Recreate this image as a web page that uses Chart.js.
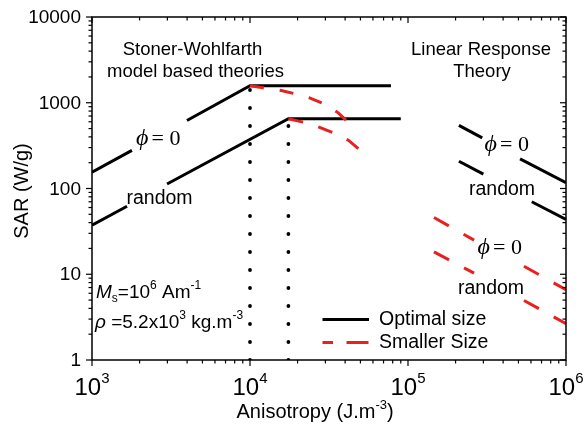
<!DOCTYPE html>
<html><head><meta charset="utf-8">
<script src="https://cdn.jsdelivr.net/npm/chart.js@4.4.1/dist/chart.umd.min.js"></script>
<style>html,body{margin:0;padding:0;background:#fff}#wrap{width:584px;height:429px;position:relative}</style>
</head><body><div id="wrap"><canvas id="c" width="584" height="429"></canvas></div>
<script>
// ---- tick values / labels ----
const xTicks = [1e3, 1e4, 1e5, 1e6];
const xTickExp = ['3', '4', '5', '6'];
const yTicks = [1, 10, 100, 1000, 10000];
const yTickLabels = ['1', '10', '100', '1000', '10000'];

// ---- Stoner-Wohlfarth region, optimal size (segments broken where labels sit) ----
const swOptPhiA = [[1e3, 155], [1790, 278]];
const swOptPhiB = [[3990, 620], [1e4, 1580], [7.8e4, 1580]];
const swOptRandA = [[1e3, 37.3], [1666, 62]];
const swOptRandB = [[2985, 113], [1.75e4, 650], [9.0e4, 650]];
// ---- Stoner-Wohlfarth region, smaller size ----
const swSmallPhi = [[1e4, 1580], [1.21e4, 1500], [1.55e4, 1400], [1.88e4, 1285], [2.36e4, 1145], [2.91e4, 980], [3.62e4, 763], [4.05e4, 627]];
const swSmallRand = [[1.75e4, 650], [2.17e4, 594], [2.7e4, 525], [3.36e4, 447], [4.19e4, 366], [4.92e4, 285]];
// ---- Linear response theory region ----
const lrtOptPhiA = [[2.1e5, 545], [2.95e5, 390]];
const lrtOptPhiB = [[5.12e5, 222], [1e6, 117]];
const lrtOptRandA = [[2.1e5, 208], [3.0e5, 147]];
const lrtOptRandB = [[6.07e5, 70], [1e6, 43.5]];
const lrtSmallPhiA = [[1.46e5, 45.9], [2.62e5, 25]];
const lrtSmallPhiB = [[5.42e5, 12.4], [1e6, 6.6]];
const lrtSmallRandA = [[1.46e5, 18.2], [2.62e5, 10.3]];
const lrtSmallRandB = [[5.42e5, 4.95], [1e6, 2.65]];
// ---- dotted markers at the peaks ----
const peakPhi = [[1e4, 1], [1e4, 1580]];
const peakRand = [[1.75e4, 1], [1.75e4, 650]];

const BLACK = '#000000';
const RED = '#e8201e';
const SANS = '"Liberation Sans", Arial, sans-serif';
const SERIF = '"Liberation Serif", "Times New Roman", serif';

function ds(arr, color, dash, width, cap) {
  return {
    data: arr.map(([x, y]) => ({x, y})),
    borderColor: color, backgroundColor: color,
    borderWidth: width || 3, borderDash: dash || [],
    borderCapStyle: cap || 'butt', borderJoinStyle: 'miter',
    pointRadius: 0, pointHoverRadius: 0, showLine: true, fill: false, tension: 0
  };
}

function rich(ctx, x, y, parts, align) {
  let w = 0;
  parts.forEach(p => { ctx.font = p.f; p.w = ctx.measureText(p.t).width; w += p.w + (p.gap || 0); });
  let cx = align === 'center' ? x - w / 2 : (align === 'right' ? x - w : x);
  parts.forEach(p => { ctx.font = p.f; ctx.fillText(p.t, cx, y + (p.dy || 0)); cx += p.w + (p.gap || 0); });
}

const deco = {
  id: 'deco',
  afterDraw(chart) {
    const {ctx, chartArea: a, scales: {x, y}} = chart;
    ctx.save();
    ctx.strokeStyle = '#000'; ctx.fillStyle = '#000';
    ctx.lineWidth = 1.5;
    ctx.strokeRect(a.left, a.top, a.right - a.left, a.bottom - a.top);
    ctx.lineWidth = 1.2;
    const ln = (x1, y1, x2, y2) => { ctx.beginPath(); ctx.moveTo(x1, y1); ctx.lineTo(x2, y2); ctx.stroke(); };
    // x ticks
    for (let e = 3; e <= 6; e++) {
      for (let m = 1; m < 10; m++) {
        if (e === 6 && m > 1) break;
        const px = x.getPixelForValue(m * Math.pow(10, e));
        const major = m === 1;
        ln(px, a.bottom, px, a.bottom + (major ? 6 : 3.5));
        ln(px, a.top, px, a.top + (major ? 6 : 3.5));
      }
    }
    // y ticks
    for (let e = 0; e <= 4; e++) {
      for (let m = 1; m < 10; m++) {
        if (e === 4 && m > 1) break;
        const py = y.getPixelForValue(m * Math.pow(10, e));
        const major = m === 1;
        ln(a.left - (major ? 6 : 3.5), py, a.left, py);
        ln(a.right - (major ? 6 : 3.5), py, a.right, py);
      }
    }
    ctx.textAlign = 'left'; ctx.textBaseline = 'alphabetic';
    // x tick labels
    xTicks.forEach((v, i) => {
      const px = x.getPixelForValue(v);
      rich(ctx, px, 395, [{t: '10', f: '24px ' + SANS}, {t: xTickExp[i], f: '15px ' + SANS, dy: -12}], 'center');
    });
    // y tick labels
    ctx.textBaseline = 'middle'; ctx.textAlign = 'right'; ctx.font = '19px ' + SANS;
    yTicks.forEach((v, i) => ctx.fillText(yTickLabels[i], 81, y.getPixelForValue(v) + 1));
    // y title
    ctx.save(); ctx.translate(22, 191); ctx.rotate(-Math.PI / 2);
    ctx.textAlign = 'center'; ctx.font = '20px ' + SANS; ctx.fillText('SAR (W/g)', 0, 0); ctx.restore();
    ctx.textAlign = 'left'; ctx.textBaseline = 'alphabetic';
    // x title
    rich(ctx, 236.5, 418, [{t: 'Anisotropy (J.m', f: '20px ' + SANS}, {t: '-3', f: '13px ' + SANS, dy: -9}, {t: ')', f: '20px ' + SANS}], 'left');
    // region titles
    ctx.textAlign = 'center'; ctx.font = '18.5px ' + SANS;
    ctx.fillText('Stoner-Wohlfarth', 192.5, 55);
    ctx.fillText('model based theories', 195.5, 77);
    ctx.fillText('Linear Response', 481, 55);
    ctx.fillText('Theory', 482, 77);
    ctx.textAlign = 'left';
    // phi = 0 labels
    const phi = (lx, base) => {
      ctx.font = 'italic 24px ' + SERIF; ctx.fillText('ϕ', lx, base);
      ctx.font = '22px ' + SERIF; ctx.fillText('=', lx + 15.5, base); ctx.fillText('0', lx + 33.5, base);
    };
    phi(136, 144.5); phi(484.5, 150.5); phi(477.5, 253.5);
    // random labels
    ctx.font = '19.5px ' + SANS;
    ctx.fillText('random', 126.5, 204);
    ctx.fillText('random', 469, 195);
    ctx.fillText('random', 458, 293.5);
    // material parameters
    rich(ctx, 96, 298, [
      {t: 'M', f: 'italic 19px ' + SANS},
      {t: 's', f: '12px ' + SANS, dy: 4},
      {t: '=10', f: '19px ' + SANS},
      {t: '6', f: '12px ' + SANS, dy: -9},
      {t: ' Am', f: '19px ' + SANS},
      {t: '-1', f: '12px ' + SANS, dy: -9}
    ], 'left');
    rich(ctx, 95, 328, [
      {t: 'ρ', f: 'italic 19px ' + SANS},
      {t: ' =5.2x10', f: '19px ' + SANS},
      {t: '3', f: '12px ' + SANS, dy: -9},
      {t: ' kg.m', f: '19px ' + SANS},
      {t: '-3', f: '12px ' + SANS, dy: -9}
    ], 'left');
    // legend
    ctx.lineWidth = 3; ctx.lineCap = 'butt';
    ctx.strokeStyle = BLACK; ln(322.5, 319.5, 369, 319.5);
    ctx.strokeStyle = RED; ln(322.5, 342.5, 333, 342.5); ln(346.5, 342.5, 368.5, 342.5);
    ctx.fillStyle = '#000'; ctx.font = '19.5px ' + SANS; ctx.textBaseline = 'middle';
    ctx.fillText('Optimal size', 379, 320);
    ctx.fillText('Smaller Size', 379, 343);
    ctx.restore();
  }
};

new Chart(document.getElementById('c'), {
  type: 'scatter',
  data: {
    datasets: [
      ds(swSmallPhi, RED, [14, 16]),
      ds(swSmallRand, RED, [15, 16]),
      ds(lrtSmallPhiA, RED, [17, 17]),
      ds(lrtSmallPhiB, RED, [17, 17]),
      ds(lrtSmallRandA, RED, [17, 17]),
      ds(lrtSmallRandB, RED, [17, 17]),
      ds(swOptPhiA, BLACK),
      ds(swOptPhiB, BLACK),
      ds(swOptRandA, BLACK),
      ds(swOptRandB, BLACK),
      ds(lrtOptPhiA, BLACK),
      ds(lrtOptPhiB, BLACK),
      ds(lrtOptRandA, BLACK),
      ds(lrtOptRandB, BLACK),
      ds(peakPhi, BLACK, [0, 18], 3.8, 'round'),
      ds(peakRand, BLACK, [0, 18], 3.8, 'round')
    ]
  },
  options: {
    responsive: false, animation: false, devicePixelRatio: 1,
    layout: {padding: {left: 92, right: 18, top: 17, bottom: 69}},
    plugins: {legend: {display: false}, tooltip: {enabled: false}},
    events: [],
    scales: {
      x: {type: 'logarithmic', min: 1e3, max: 1e6, display: false},
      y: {type: 'logarithmic', min: 1, max: 1e4, display: false}
    }
  },
  plugins: [deco]
});
</script>
</body></html>
